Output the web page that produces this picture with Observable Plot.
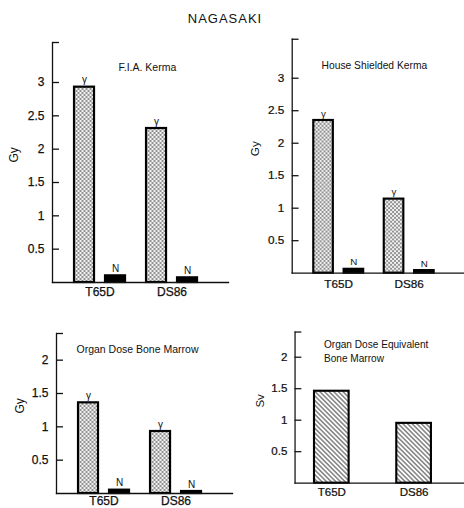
<!DOCTYPE html>
<html>
<head>
<meta charset="utf-8">
<script src="https://cdn.jsdelivr.net/npm/d3@7"></script>
<script src="https://cdn.jsdelivr.net/npm/@observablehq/plot@0.6"></script>
<style>
  html, body { margin: 0; padding: 0; background: #fff; }
  #page { position: relative; width: 464px; height: 508px; overflow: hidden;
          font-family: "Liberation Sans", Arial, Helvetica, sans-serif; color: #111; }
  #title { position: absolute; top: 11px; left: 0; width: 450px; text-align: center;
           font-size: 13px; letter-spacing: 1px; }
  .panel { position: absolute; }
  .panel svg g[aria-label$="tick label"] text { stroke: #111; stroke-width: 0.25px; }
</style>
</head>
<body>
<svg width="0" height="0" style="position:absolute">
  <defs>
    <pattern id="checker" width="4" height="4" patternUnits="userSpaceOnUse">
      <rect width="4" height="4" fill="#f2f2f2"/>
      <rect width="2" height="2" fill="#929292"/>
      <rect x="2" y="2" width="2" height="2" fill="#929292"/>
    </pattern>
    <pattern id="hatch" width="3.4" height="3.4" patternUnits="userSpaceOnUse" patternTransform="rotate(-45)">
      <rect width="3.4" height="3.4" fill="#fff"/>
      <line x1="1.7" y1="0" x2="1.7" y2="3.4" stroke="#5a5a5a" stroke-width="1.2"/>
    </pattern>
  </defs>
</svg>
<div id="page">
  <div id="title">NAGASAKI</div>
  <div class="panel" id="p1" style="left:0;top:30px"></div>
  <div class="panel" id="p2" style="left:232px;top:27px"></div>
  <div class="panel" id="p3" style="left:0;top:321px"></div>
  <div class="panel" id="p4" style="left:232px;top:320px"></div>
</div>
<script>
// Dosimetry systems compared, and the two radiation components
const doses = ["T65D", "DS86"];
const radiations = ["γ", "N"];

// Free-in-air kerma (Gy)
const fiaGamma = [2.93, 2.31];
const fiaNeutron = [0.10, 0.07];
// House-shielded kerma (Gy)
const houseGamma = [2.35, 1.14];
const houseNeutron = [0.06, 0.04];
// Bone marrow organ dose (Gy)
const marrowGamma = [1.36, 0.93];
const marrowNeutron = [0.05, 0.03];
// Bone marrow organ dose equivalent (Sv)
const marrowEquivalent = [1.46, 0.95];

// Tick values
const kermaTicks = [0.5, 1, 1.5, 2, 2.5, 3];
const marrowTicks = [0.5, 1, 1.5, 2];

const font = "'Liberation Sans', Arial, Helvetica, sans-serif";
const baseStyle = {fontFamily: font, color: "#111", background: "transparent", overflow: "visible"};

function rows(gamma, neutron) {
  return doses.flatMap((dose, i) => [
    {dose, radiation: "γ", value: gamma[i]},
    {dose, radiation: "N", value: neutron[i]}
  ]);
}

// Axis lines, inward ticks (with a cap at the top), unit label and panel title
function axesMarks({title, titleDx, titleDy, yMax, ticks, unit, unitOffset}) {
  return [
    Plot.axisY({
      ticks: [...ticks, yMax], tickSize: -7, tickPadding: 15,
      strokeWidth: 1.3, fontSize: 12, label: null,
      tickFormat: (d) => (d >= yMax ? "" : d)
    }),
    Plot.frame({anchor: "left", strokeWidth: 1.3}),
    Plot.frame({anchor: "bottom", strokeWidth: 1.3}),
    Plot.text([unit], {text: (d) => d, frameAnchor: "left", rotate: -90, dx: -unitOffset, fontSize: 12}),
    Plot.text([title], {text: (d) => d, frameAnchor: "top-left", textAnchor: "start", lineAnchor: "top",
                        dx: titleDx, dy: titleDy, fontSize: 10.5, lineHeight: 1.33})
  ];
}

// γ and N bars side by side for each dosimetry system
function groupedPanel(opts) {
  const {data, yMax, width, height, marginLeft, marginBottom, labelPadding} = opts;
  const frame = {width, height, marginTop: 12, marginRight: 0, marginBottom, marginLeft};
  const bars = Plot.plot({
    ...frame,
    facet: {marginTop: 0, marginRight: 0, marginBottom: 0, marginLeft: 0},
    style: baseStyle,
    fx: {domain: doses, paddingInner: 0, paddingOuter: 0.222, align: 0.36, round: false, label: null, axis: null},
    x: {domain: radiations, paddingInner: 0.355, paddingOuter: 0.339, align: 0.5, round: false, axis: null},
    y: {domain: [0, yMax], axis: null},
    marks: [
      Plot.barY(data, {filter: (d) => d.radiation === "γ", fx: "dose", x: "radiation", y: "value",
                       fill: "url(#checker)", stroke: "#000", strokeWidth: 2.2}),
      Plot.barY(data, {filter: (d) => d.radiation === "N", fx: "dose", x: "radiation", y: "value",
                       fill: "#000", stroke: "#000", strokeWidth: 2.2}),
      Plot.text(data, {fx: "dose", x: "radiation", y: "value", text: "radiation",
                       lineAnchor: "bottom", dy: -4, fontSize: 10}),
      Plot.axisFx({anchor: "bottom", tickSize: 0, tickPadding: labelPadding, fontSize: 12, label: null})
    ]
  });
  const axes = Plot.plot({
    ...frame,
    style: {...baseStyle, position: "absolute", left: "0px", top: "0px"},
    y: {domain: [0, yMax], axis: null},
    marks: axesMarks(opts)
  });
  const wrap = document.createElement("div");
  wrap.style.position = "relative";
  wrap.append(bars, axes);
  return wrap;
}

// One hatched bar per dosimetry system
function equivalentPanel(opts) {
  const {values, yMax, width, height, marginLeft, marginBottom, labelPadding} = opts;
  const data = doses.map((dose, i) => ({dose, value: values[i]}));
  return Plot.plot({
    width, height, marginTop: 12, marginRight: 0, marginBottom, marginLeft,
    style: baseStyle,
    x: {domain: doses, paddingInner: 0.579, paddingOuter: 0.319, align: 0.37, round: false, axis: null},
    y: {domain: [0, yMax], axis: null},
    marks: [
      Plot.barY(data, {x: "dose", y: "value", fill: "url(#hatch)", stroke: "#000", strokeWidth: 2.2}),
      Plot.axisX({anchor: "bottom", tickSize: 0, tickPadding: labelPadding, fontSize: 12, label: null}),
      ...axesMarks(opts)
    ]
  });
}

document.getElementById("p1").append(groupedPanel({
  data: rows(fiaGamma, fiaNeutron), title: "F.I.A. Kerma", titleDx: 66, titleDy: 19,
  yMax: 3.6, ticks: kermaTicks, unit: "Gy", unitOffset: 38,
  width: 228, height: 280, marginLeft: 52, marginBottom: 28, labelPadding: 5
}));
document.getElementById("p2").append(groupedPanel({
  data: rows(houseGamma, houseNeutron), title: "House Shielded Kerma", titleDx: 30, titleDy: 20,
  yMax: 3.6, ticks: kermaTicks, unit: "Gy", unitOffset: 38,
  width: 237, height: 280, marginLeft: 61, marginBottom: 29, labelPadding: 7
}));
document.getElementById("p3").append(groupedPanel({
  data: rows(marrowGamma, marrowNeutron), title: "Organ Dose Bone Marrow", titleDx: 20, titleDy: 10,
  yMax: 2.4, ticks: marrowTicks, unit: "Gy", unitOffset: 36,
  width: 232, height: 187, marginLeft: 56, marginBottom: 15, labelPadding: 3
}));
document.getElementById("p4").append(equivalentPanel({
  values: marrowEquivalent, title: "Organ Dose Equivalent\nBone Marrow", titleDx: 30, titleDy: 7,
  yMax: 2.4, ticks: marrowTicks, unit: "Sv", unitOffset: 36,
  width: 241, height: 188, marginLeft: 65, marginBottom: 19, labelPadding: 5
}));
</script>
</body>
</html>
